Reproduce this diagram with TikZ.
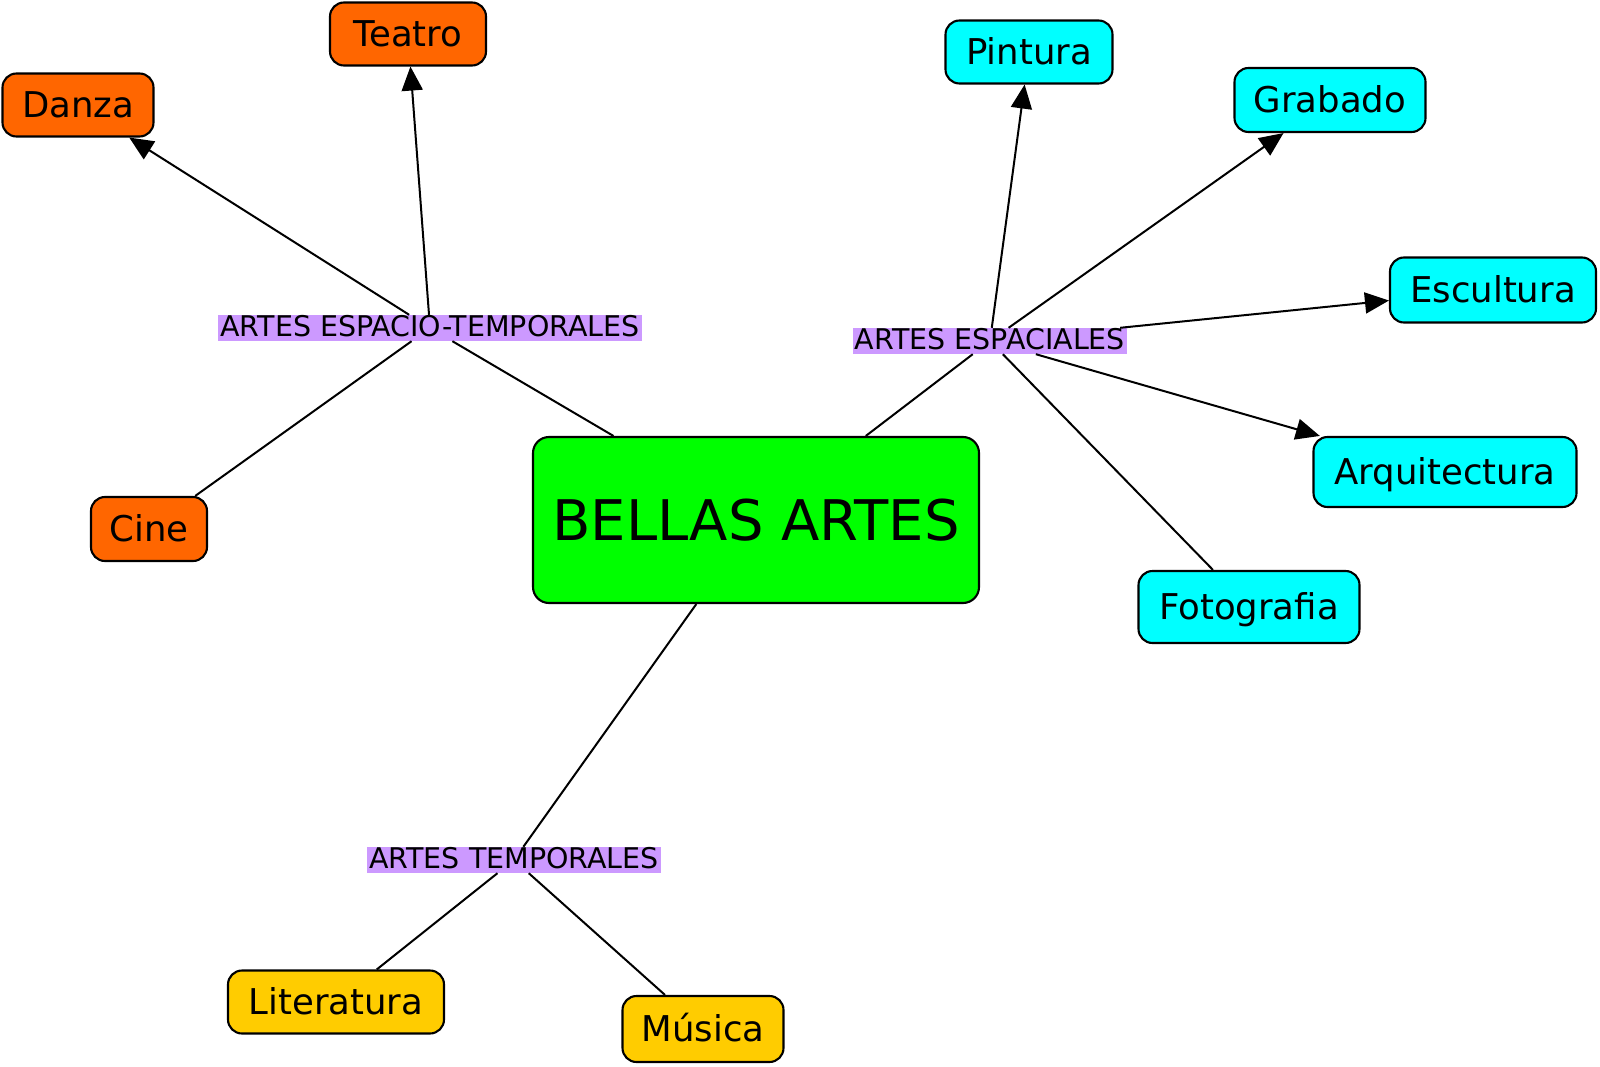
\documentclass[tikz,border=0pt]{standalone}
\usepackage{fontspec}
\setmainfont{DejaVu Sans}
\usetikzlibrary{arrows.meta}
\definecolor{orng}{HTML}{FF6600}
\definecolor{cyn}{HTML}{00FFFF}
\definecolor{grn}{HTML}{00FF00}
\definecolor{ylw}{HTML}{FFCC00}
\definecolor{labc}{HTML}{CC99FF}
\begin{document}
\begin{tikzpicture}[x=1pt,y=-1pt,
  box/.style={draw=black, line width=2.1pt, rounded corners=14pt, inner sep=0pt,
    text height=25pt, text depth=0pt, font=\fontsize{35.5}{40}\selectfont},
  lab/.style={fill=labc, inner xsep=2pt, inner ysep=0.5pt, text height=20.5pt, text depth=4.5pt,
    font=\fontsize{28.5}{32}\selectfont},
  conn/.style={line width=2pt},
  arr/.style={conn, -{Triangle[length=24pt,width=21pt]}}]
\useasboundingbox (0,0) rectangle (1600,1067);
% central node
\node[box, fill=grn, minimum width=446pt, minimum height=166pt, rounded corners=16pt,
  text height=40pt, font=\fontsize{56}{60}\selectfont] (ba) at (756,520) {BELLAS ARTES};
% category labels
\node[lab] (et) at (430,328) {ARTES ESPACIO-TEMPORALES};
\node[lab] (es) at (990,341) {ARTES ESPACIALES};
\node[lab] (te) at (514,860) {ARTES TEMPORALES};
% orange
\node[box, fill=orng, minimum width=156pt, minimum height=63pt] (teatro) at (408,34) {Teatro};
\node[box, fill=orng, minimum width=151pt, minimum height=63pt] (danza) at (78,105) {Danza};
\node[box, fill=orng, minimum width=116pt, minimum height=64pt] (cine) at (149,529) {Cine};
% cyan
\node[box, fill=cyn, minimum width=167pt, minimum height=63pt] (pintura) at (1029,52) {Pintura};
\node[box, fill=cyn, minimum width=191pt, minimum height=64pt] (grabado) at (1330,100) {Grabado};
\node[box, fill=cyn, minimum width=206pt, minimum height=65pt] (escultura) at (1493,290) {Escultura};
\node[box, fill=cyn, minimum width=263pt, minimum height=70pt] (arq) at (1445,472) {Arquitectura};
\node[box, fill=cyn, minimum width=221pt, minimum height=72pt] (foto) at (1249,607) {Fotografia};
% yellow
\node[box, fill=ylw, minimum width=216pt, minimum height=63pt] (lit) at (336,1002) {Literatura};
\node[box, fill=ylw, minimum width=161pt, minimum height=66pt] (mus) at (703,1029) {Música};
% connectors
\draw[conn] (ba) -- (et);
\draw[conn] (ba) -- (es);
\draw[conn] (ba) -- (te);
\draw[arr] (et) -- (danza);
\draw[arr] (et) -- (teatro);
\draw[conn] (et) -- (cine);
\draw[arr] (es) -- (pintura);
\draw[arr] (es) -- (grabado);
\draw[arr] (es) -- (escultura);
\draw[arr] (es) -- (arq);
\draw[conn] (es) -- (foto);
\draw[conn] (te) -- (lit);
\draw[conn] (te) -- (mus);
\end{tikzpicture}
\end{document}
